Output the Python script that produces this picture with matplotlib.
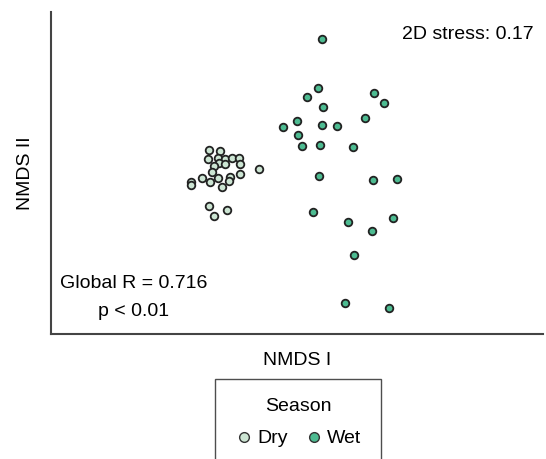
import numpy as np
import matplotlib
matplotlib.use('Agg')
from matplotlib import pyplot as plt
from matplotlib.lines import Line2D

plt.rcParams['font.family'] = ['Liberation Sans', 'DejaVu Sans']

# NMDS scores
dry_x = [-0.91, -0.80, -0.92, -0.82, -0.75, -0.68, -0.61, -0.81, -0.75, -0.60,
         -0.86, -0.88, -0.41, -0.60, -0.98, -0.90, -0.82, -0.70, -0.71, -0.78,
         -1.09, -1.09, -0.91, -0.73, -0.86]
dry_y = [0.50, 0.49, 0.41, 0.42, 0.41, 0.42, 0.42, 0.37, 0.36, 0.36,
         0.34, 0.28, 0.31, 0.26, 0.22, 0.18, 0.22, 0.23, 0.19, 0.13,
         0.18, 0.15, -0.06, -0.10, -0.16]
wet_x = [0.22, 0.18, 0.07, 0.74, 0.84, 0.23, -0.03, -0.17, 0.22, 0.37,
         0.65, -0.02, 0.02, 0.20, 0.53, 0.19, 0.73, 0.97, 0.13, 0.48,
         0.93, 0.72, 0.54, 0.45, 0.89]
wet_y = [1.61, 1.12, 1.03, 1.07, 0.97, 0.93, 0.79, 0.73, 0.75, 0.74,
         0.82, 0.65, 0.54, 0.55, 0.53, 0.24, 0.20, 0.21, -0.12, -0.22,
         -0.18, -0.31, -0.55, -1.03, -1.08]

seasons = ['Dry', 'Wet']
colors = {'Dry': '#cce5d3', 'Wet': '#4dbb91'}
stress = 0.17
global_r = 0.716

fig = plt.figure(figsize=(5.46, 4.59), dpi=100)
ax = fig.add_axes([51/546, 1-334/459, 492/546, 322/459])

ax.scatter(dry_x, dry_y, s=30, c=colors['Dry'], edgecolors='#222222', linewidths=1.3, zorder=3)
ax.scatter(wet_x, wet_y, s=30, c=colors['Wet'], edgecolors='#222222', linewidths=1.3, zorder=3)

ax.set_xlim(-2.49, 2.43)
ax.set_ylim(-1.34, 1.88)
ax.set_xticks([])
ax.set_yticks([])
for side in ['top', 'right']:
    ax.spines[side].set_visible(False)
for side in ['left', 'bottom']:
    ax.spines[side].set_color('#444444')
    ax.spines[side].set_linewidth(1.5)

ax.set_xlabel('NMDS I', fontsize=14, labelpad=13)
ax.set_ylabel('NMDS II', fontsize=14, labelpad=12)

ax.text(0.98, 0.93, '2D stress: ' + str(stress), transform=ax.transAxes,
        ha='right', va='center', fontsize=14)
ax.text(0.169, 0.158, 'Global R = ' + str(global_r), transform=ax.transAxes,
        ha='center', va='center', fontsize=14)
ax.text(0.167, 0.071, 'p < 0.01', transform=ax.transAxes,
        ha='center', va='center', fontsize=14)

handles = [Line2D([], [], marker='o', ls='', markersize=7, markerfacecolor=colors[s],
                  markeredgecolor='#333333', markeredgewidth=1.0) for s in seasons]
leg = fig.legend(handles, seasons, title='Season', ncol=2, loc='upper center',
                 bbox_to_anchor=(298/546, 1-369/459), fontsize=14, title_fontsize=14,
                 frameon=True, fancybox=False, edgecolor='#222222', handletextpad=0.2,
                 columnspacing=0.8, borderpad=1.0, handlelength=1.0, labelspacing=0.75)
leg.get_frame().set_linewidth(1.0)

fig.savefig('out.png', dpi=100)
